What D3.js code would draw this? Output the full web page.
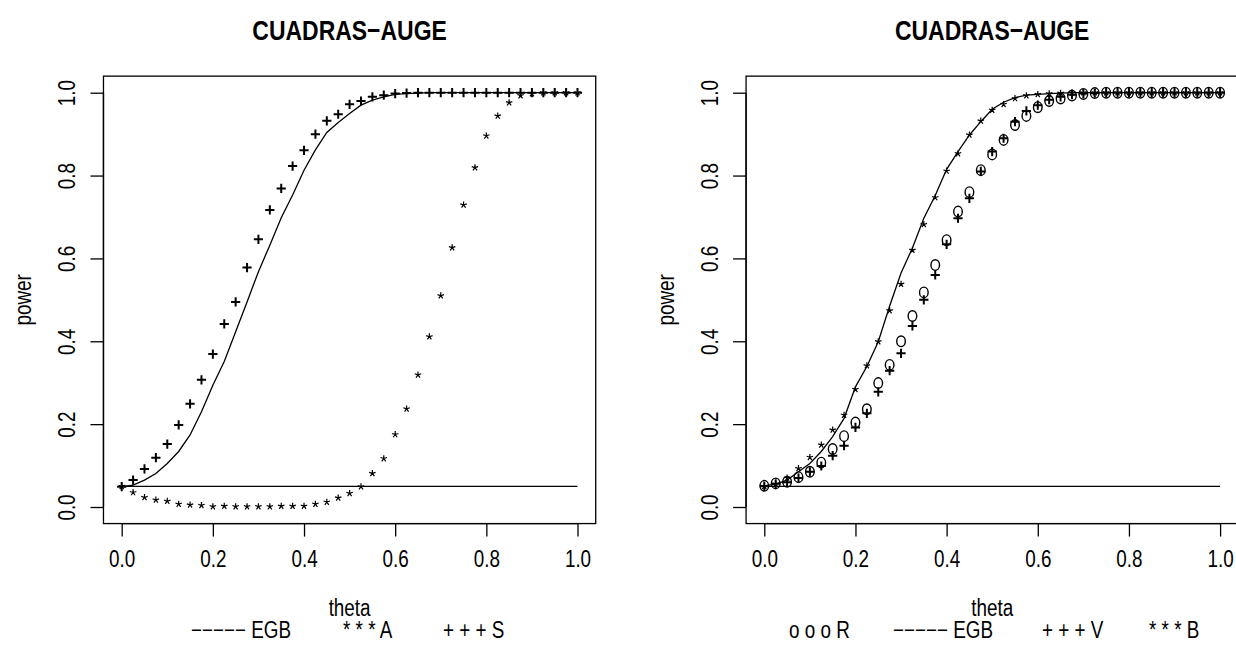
<!DOCTYPE html>
<html>
<head>
<meta charset="utf-8">
<script src="https://cdn.jsdelivr.net/npm/d3@7"></script>
<style>
  body { margin: 0; background: #fff; }
  svg text { font-family: "Liberation Sans", Arial, Helvetica, sans-serif; fill: #000; }
</style>
</head>
<body>
<svg id="chart" width="1236" height="648"></svg>
<script>
"use strict";

// ==========  Data  ==========
var theta = [0, 0.025, 0.05, 0.075, 0.1, 0.125, 0.15, 0.175, 0.2, 0.225, 0.25, 0.275, 0.3, 0.325,
             0.35, 0.375, 0.4, 0.425, 0.45, 0.475, 0.5, 0.525, 0.55, 0.575, 0.6, 0.625, 0.65, 0.675,
             0.7, 0.725, 0.75, 0.775, 0.8, 0.825, 0.85, 0.875, 0.9, 0.925, 0.95, 0.975, 1]
var xTicks = [0, 0.2, 0.4, 0.6, 0.8, 1]
var yTicks = [0, 0.2, 0.4, 0.6, 0.8, 1]
var tickLabels = ["0.0", "0.2", "0.4", "0.6", "0.8", "1.0"]
var alphaLevel = 0.05

// left panel
var leftEGB = [0.049, 0.053, 0.065, 0.081, 0.105, 0.134, 0.174, 0.230, 0.294, 0.351, 0.423, 0.495, 0.568, 0.632,
               0.698, 0.753, 0.813, 0.862, 0.904, 0.928, 0.950, 0.970, 0.982, 0.990, 0.996, 0.998, 0.999, 1,
               1, 1, 1, 1, 1, 1, 1, 1, 1, 1, 1, 1, 1]
var leftA   = [0.050, 0.035, 0.023, 0.017, 0.014, 0.007, 0.005, 0.004, 0.001, 0.002, 0.001, 0.001, 0.001, 0.001,
               0.002, 0.002, 0.002, 0.007, 0.012, 0.022, 0.033, 0.049, 0.081, 0.117, 0.175, 0.237, 0.319, 0.411,
               0.510, 0.626, 0.729, 0.819, 0.896, 0.944, 0.976, 0.993, 0.998, 1, 1, 1, 1]
var leftS   = [0.049, 0.065, 0.092, 0.119, 0.152, 0.198, 0.249, 0.307, 0.369, 0.442, 0.495, 0.578, 0.646, 0.717,
               0.769, 0.823, 0.861, 0.900, 0.932, 0.948, 0.972, 0.980, 0.990, 0.994, 0.998, 0.999, 1, 1,
               1, 1, 1, 1, 1, 1, 1, 1, 1, 1, 1, 1, 1]

// right panel
var rightEGB = [0.051, 0.055, 0.065, 0.085, 0.105, 0.134, 0.170, 0.214, 0.290, 0.339, 0.399, 0.485, 0.565, 0.625,
                0.697, 0.752, 0.815, 0.858, 0.898, 0.930, 0.960, 0.977, 0.988, 0.994, 0.996, 0.998, 0.999, 1,
                1, 1, 1, 1, 1, 1, 1, 1, 1, 1, 1, 1, 1]
var rightR   = [0.051, 0.057, 0.061, 0.072, 0.085, 0.107, 0.140, 0.171, 0.204, 0.236, 0.299, 0.343, 0.400, 0.461,
                0.518, 0.584, 0.644, 0.713, 0.760, 0.813, 0.851, 0.886, 0.922, 0.944, 0.965, 0.980, 0.986, 0.993,
                0.997, 0.999, 1, 1, 1, 1, 1, 1, 1, 1, 1, 1, 1]
var rightV   = [0.050, 0.056, 0.060, 0.070, 0.085, 0.099, 0.124, 0.148, 0.192, 0.226, 0.278, 0.329, 0.371, 0.437,
                0.500, 0.560, 0.634, 0.697, 0.745, 0.810, 0.858, 0.890, 0.930, 0.956, 0.970, 0.983, 0.990, 0.995,
                0.998, 0.999, 1, 1, 1, 1, 1, 1, 1, 1, 1, 1, 1]
var rightB   = [0.050, 0.055, 0.070, 0.093, 0.120, 0.150, 0.186, 0.222, 0.284, 0.341, 0.399, 0.474, 0.538, 0.620,
                0.682, 0.747, 0.811, 0.853, 0.898, 0.932, 0.958, 0.972, 0.986, 0.993, 0.996, 0.998, 0.999, 1,
                1, 1, 1, 1, 1, 1, 1, 1, 1, 1, 1, 1, 1]

var titleText = "CUADRAS\u2212AUGE"
var dash = "\u2212\u2212\u2212\u2212\u2212"
var leftLegend  = [{ label: dash + " EGB", x: 191 }, { label: "* * * A", x: 343 }, { label: "+ + + S", x: 443 }]
var rightLegend = [{ label: "o o o R", x: 789 }, { label: dash + " EGB", x: 893 },
                   { label: "+ + + V", x: 1042 }, { label: "* * * B", x: 1149 }]

// ==========  Drawing  ==========
var svg = d3.select("#chart")
var ink = "#000"
var squeeze = 0.82   // the reference uses a narrow Helvetica; squeeze Liberation Sans to match

// places a text at (x,y), optionally rotated, and narrows it horizontally
var placeText = function(sel, x, y, angle) {
  return sel.attr("x", 0).attr("y", 0).attr("dy", null)
    .attr("transform", "translate(" + x + "," + y + ")" + (angle ? " rotate(" + angle + ")" : "") + " scale(" + squeeze + ",1)")
}

var starPath = function(p) {
  var d = ""
  for (var k = 0; k < 5; k++) {
    var a = -Math.PI / 2 + k * 2 * Math.PI / 5
    d += "M" + p[0] + "," + p[1] + "l" + (3.4 * Math.cos(a)).toFixed(2) + "," + (3.4 * Math.sin(a)).toFixed(2)
  }
  return d
}

var drawPanel = function(offsetX, series, legend) {
  var x = d3.scaleLinear().domain([0, 1]).range([121.7 + offsetX, 577.5 + offsetX])
  var y = d3.scaleLinear().domain([0, 1]).range([507, 92.7])
  var boxL = x(-0.04), boxR = x(1.04), boxT = y(1.04), boxB = y(-0.04)
  var g = svg.append("g")

  // axes (R style: ticks outside, labels parallel to axis)
  var xAxis = d3.axisBottom(x).tickValues(xTicks).tickSize(13).tickSizeOuter(0)
                .tickFormat(function(d, i) { return tickLabels[i] })
  var gx = g.append("g").attr("transform", "translate(0," + boxB + ")").call(xAxis)
  gx.attr("font-family", null).attr("font-size", null)
  gx.select(".domain").attr("d", "M" + x(0) + ",0H" + x(1)).attr("stroke-width", 1.3)
  gx.selectAll("line").attr("stroke", ink).attr("stroke-width", 1.3)
  gx.selectAll("text").style("font-size", "23px").each(function() {
    placeText(d3.select(this), 0, 43)
  })

  var yAxis = d3.axisLeft(y).tickValues(yTicks).tickSize(13).tickSizeOuter(0)
                .tickFormat(function(d, i) { return tickLabels[i] })
  var gy = g.append("g").attr("transform", "translate(" + boxL + ",0)").call(yAxis)
  gy.attr("font-family", null).attr("font-size", null)
  gy.select(".domain").attr("d", "M0," + y(0) + "V" + y(1)).attr("stroke-width", 1.3)
  gy.selectAll("line").attr("stroke", ink).attr("stroke-width", 1.3)
  gy.selectAll("text").attr("text-anchor", "middle").style("font-size", "23px").each(function() {
    placeText(d3.select(this), -28, 0, -90)
  })

  // box
  g.append("rect").attr("x", boxL).attr("y", boxT)
   .attr("width", boxR - boxL).attr("height", boxB - boxT)
   .attr("fill", "none").attr("stroke", ink).attr("stroke-width", 1.3)

  // alpha reference line
  g.append("path")
   .attr("d", d3.line()([[x(0), y(alphaLevel)], [x(1), y(alphaLevel)]]))
   .attr("fill", "none").attr("stroke", ink).attr("stroke-width", 1.3)

  // series
  series.forEach(function(s) {
    var pts = theta.map(function(t, i) { return [x(t), y(s.values[i])] })
    if (s.type == "line") {
      g.append("path").attr("d", d3.line()(pts))
       .attr("fill", "none").attr("stroke", ink).attr("stroke-width", 1.3)
    } else if (s.type == "plus") {
      g.append("path")
       .attr("d", pts.map(function(p) {
         return "M" + (p[0] - 4.6) + "," + p[1] + "h9.2M" + p[0] + "," + (p[1] - 4.6) + "v9.2"
       }).join(""))
       .attr("fill", "none").attr("stroke", ink).attr("stroke-width", 2)
    } else if (s.type == "circle") {
      g.selectAll(null).data(pts).enter().append("ellipse")
       .attr("cx", function(p) { return p[0] }).attr("cy", function(p) { return p[1] })
       .attr("rx", 4.3).attr("ry", 5.3)
       .attr("fill", "none").attr("stroke", ink).attr("stroke-width", 1.4)
    } else if (s.type == "star") {
      g.append("path").attr("d", pts.map(starPath).join(""))
       .attr("fill", "none").attr("stroke", ink).attr("stroke-width", 1.2)
    }
  })

  // titles
  var cx = (boxL + boxR) / 2
  placeText(g.append("text"), cx, 40).attr("text-anchor", "middle")
   .style("font-size", "28px").style("font-weight", "bold").text(titleText)
  placeText(g.append("text"), cx, 616).attr("text-anchor", "middle")
   .style("font-size", "23px").text("theta")
  placeText(g.append("text"), boxL - 72, (boxT + boxB) / 2, -90)
   .attr("text-anchor", "middle").style("font-size", "23px").text("power")

  // legend line under the axis title
  g.selectAll(null).data(legend).enter().append("text")
   .style("font-size", "23px")
   .text(function(d) { return d.label })
   .each(function(d) { placeText(d3.select(this), d.x, 638) })
}

drawPanel(0, [
  { type: "line", values: leftEGB },
  { type: "star", values: leftA },
  { type: "plus", values: leftS }
], leftLegend)

drawPanel(642.6, [
  { type: "line", values: rightEGB },
  { type: "star", values: rightB },
  { type: "circle", values: rightR },
  { type: "plus", values: rightV }
], rightLegend)
</script>
</body>
</html>
